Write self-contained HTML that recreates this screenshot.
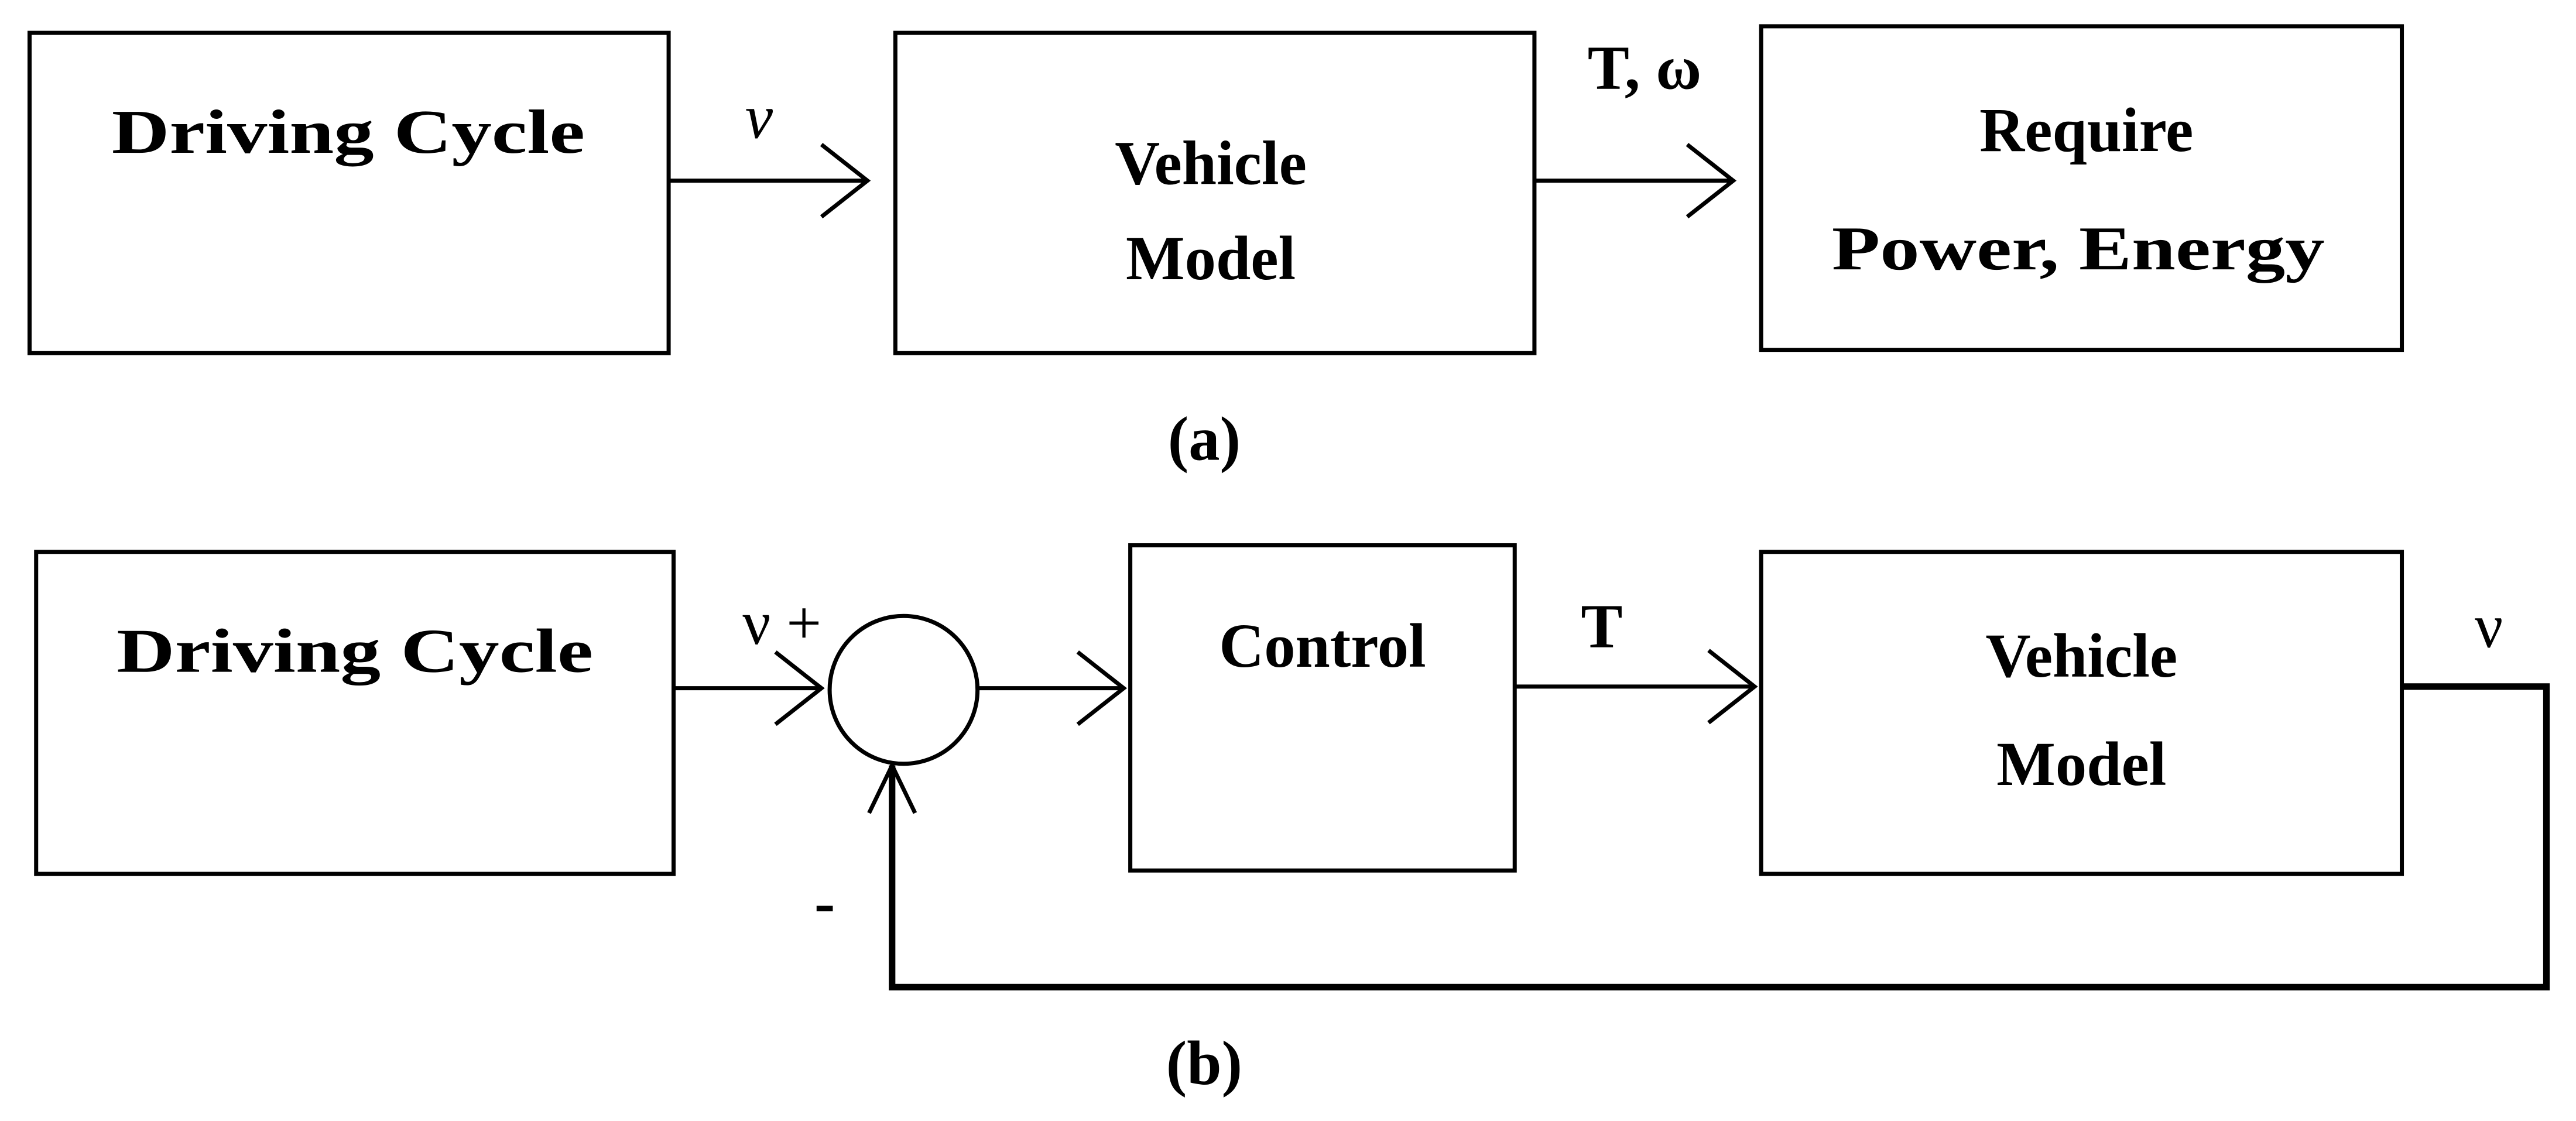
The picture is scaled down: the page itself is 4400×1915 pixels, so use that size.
<!DOCTYPE html>
<html><head><meta charset="utf-8"><style>html,body{margin:0;padding:0;background:#fff;}svg{display:block}</style></head>
<body>
<svg width="4400" height="1915" viewBox="0 0 1568 682.5" preserveAspectRatio="none" xmlns="http://www.w3.org/2000/svg">
<g fill="none" stroke="#000" stroke-width="2.5">
<rect x="18" y="20" width="389" height="195"/>
<rect x="545" y="20" width="389" height="195"/>
<rect x="1072" y="16" width="390" height="197"/>
<line x1="407" y1="110" x2="528" y2="110"/>
<polyline points="500,88 528,110 500,132"/>
<line x1="934" y1="110" x2="1055" y2="110"/>
<polyline points="1027,88 1055,110 1027,132"/>
<rect x="22" y="336" width="388" height="196"/>
<rect x="688" y="332" width="234" height="198"/>
<rect x="1072" y="336" width="390" height="196"/>
<circle cx="550" cy="420" r="45"/>
<line x1="410" y1="419" x2="500" y2="419"/>
<polyline points="472,397 500,419 472,441"/>
<line x1="595" y1="419" x2="684" y2="419"/>
<polyline points="656,397 684,419 656,441"/>
<line x1="922" y1="418" x2="1068" y2="418"/>
<polyline points="1040,396 1068,418 1040,440"/>
<polyline stroke-width="4" points="1462,418 1550,418 1550,601 543,601 543,466"/>
<polyline points="529,495 543,466 557,495"/>
</g>
<g font-family="Liberation Serif, serif" font-weight="bold" font-size="38" text-anchor="middle" fill="#000">
<text x="212" y="93" textLength="288" lengthAdjust="spacingAndGlyphs">Driving Cycle</text>
<text x="462" y="84" font-weight="normal" font-style="italic">ν</text>
<text x="737" y="112">Vehicle</text>
<text x="737" y="170">Model</text>
<text x="1001" y="54">T, ω</text>
<text x="1270" y="92">Require</text>
<text x="1265" y="164" textLength="300" lengthAdjust="spacingAndGlyphs">Power, Energy</text>
<text x="733" y="280">(a)</text>
<text x="216" y="409" textLength="290" lengthAdjust="spacingAndGlyphs">Driving Cycle</text>
<text x="476" y="392" font-weight="normal">ν +</text>
<text x="502" y="562">-</text>
<text x="805" y="406">Control</text>
<text x="975" y="394">T</text>
<text x="1267" y="412">Vehicle</text>
<text x="1267" y="478">Model</text>
<text x="1515" y="394" font-weight="normal">ν</text>
<text x="733" y="660">(b)</text>
</g>
</svg>
</body></html>
